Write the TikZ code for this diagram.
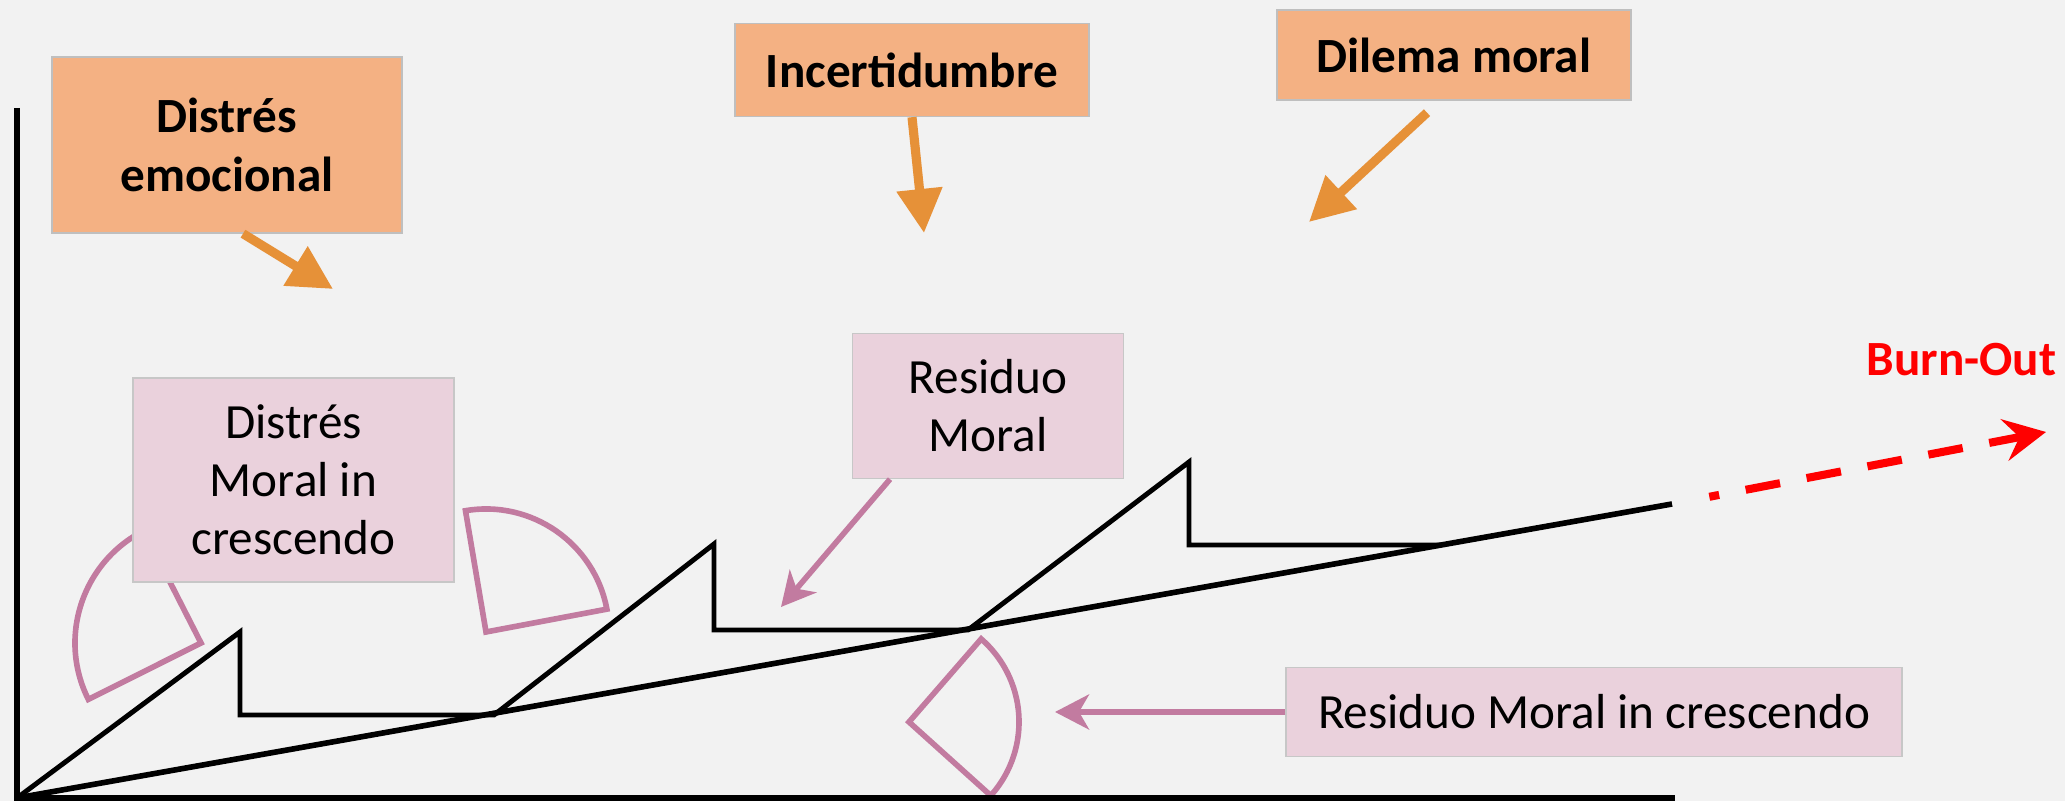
\documentclass[tikz,border=0pt]{standalone}
\usepackage{fontspec}
\setmainfont{Carlito}
\usepackage{tikz}
\usetikzlibrary{arrows.meta,calc}
\definecolor{paper}{RGB}{242,242,242}
\definecolor{factorfill}{RGB}{244,177,131}
\definecolor{pusharrow}{RGB}{230,145,56}
\definecolor{moralfill}{RGB}{234,209,220}
\definecolor{sector}{RGB}{194,123,160}
\tikzset{
  factor/.style={draw=black!25, fill=factorfill, align=center, inner sep=0pt,
    font=\fontsize{14}{17}\selectfont\bfseries},
  moral/.style={draw=black!22, fill=moralfill, align=center, inner sep=0pt,
    font=\fontsize{14}{16.5}\selectfont},
  push/.style={draw=pusharrow, line width=2.6pt, -{Triangle[length=4.4mm, width=4.4mm]}},
  hint/.style={draw=sector, line width=1.6pt, -{Stealth[length=3.4mm, width=3.5mm, inset=1mm]}},
  pie/.style={draw=sector, line width=1.6pt},
  curve/.style={line width=1.4pt},
}

\begin{document}
\begin{tikzpicture}
  \useasboundingbox (0,0) rectangle (20.65,8.01);
  \fill[paper] (0,0) rectangle (20.65,8.01);

  % sectors
  \draw[pie] (2.01,1.58) -- ++(117:1.26) arc[start angle=117, end angle=206.6, radius=1.26] -- cycle;
  \draw[pie] (4.86,1.69) -- ++(10.7:1.23) arc[start angle=10.7, end angle=99.6, radius=1.23] -- cycle;
  \draw[pie] (9.09,0.79) -- ++(-42:1.10) arc[start angle=-42, end angle=49, radius=1.10] -- cycle;

  % axes and curves
  \coordinate (o) at (0.17,0.03);
  \coordinate (ytop) at (0.17,6.93);
  \coordinate (xend) at (16.75,0.03);
  \coordinate (bend) at (16.72,2.97);
  \coordinate (tip) at (20.46,3.69);
  \draw[line width=1.5pt] (ytop) -- (o) -- (xend);
  \draw[line width=1.6pt] (o) -- (bend);
  \draw[curve] (o) -- (2.40,1.69) -- (2.40,0.86) -- (4.94,0.86)
    -- (7.14,2.57) -- (7.14,1.71) -- (9.68,1.71)
    -- (11.89,3.39) -- (11.89,2.56) -- (14.42,2.56);
  \draw[red, line width=2.3pt,
    dash pattern=on 0cm off 0.38cm on 0.1cm off 0.27cm on 0.35cm off 0.27cm on 0.35cm off 0.27cm
      on 0.35cm off 0.27cm on 0.35cm off 0.27cm on 0.35cm off 0.27cm on 0.35cm off 0.27cm,
    -{Stealth[length=4.2mm, width=4.2mm, inset=1.5mm]}] (bend) -- (tip);
  \node[red, font=\fontsize{14}{17}\selectfont\bfseries, inner sep=0pt, anchor=east] (burn) at (20.57,4.41) {Burn-Out};

  % factors
  \node[factor, minimum width=3.50cm, minimum height=1.76cm] (emo) at (2.27,6.56) {Distrés\\emocional};
  \node[factor, minimum width=3.54cm, minimum height=0.93cm] (inc) at (9.12,7.31) {Incertidumbre};
  \node[factor, minimum width=3.54cm, minimum height=0.90cm] (dil) at (14.54,7.46) {Dilema moral};
  \coordinate (e1) at (3.33,5.12);
  \coordinate (e2) at (9.24,5.68);
  \coordinate (e3) at (13.09,5.79);
  \draw[push] ([xshift=1.6mm]emo.south) -- (e1);
  \draw[push] (inc.south) -- (e2);
  \draw[push] ([shift={(-0.27,-0.12)}]dil.south) -- (e3);

  % moral distress
  \node[moral, minimum width=3.21cm, minimum height=2.04cm] (dmc) at (2.935,3.21) {Distrés\\Moral in\\crescendo};
  \node[moral, minimum width=2.71cm, minimum height=1.45cm] (res) at (9.88,3.95) {Residuo\\Moral};
  \node[moral, minimum width=6.16cm, minimum height=0.89cm] (resc) at (15.94,0.89) {Residuo Moral in crescendo};
  \coordinate (r1) at (7.81,1.94);
  \coordinate (r2) at (10.55,0.87);
  \draw[hint] ([xshift=-9.8mm]res.south) -- (r1);
  \draw[hint] (resc.west) -- (r2 |- resc.west);
\end{tikzpicture}
\end{document}
